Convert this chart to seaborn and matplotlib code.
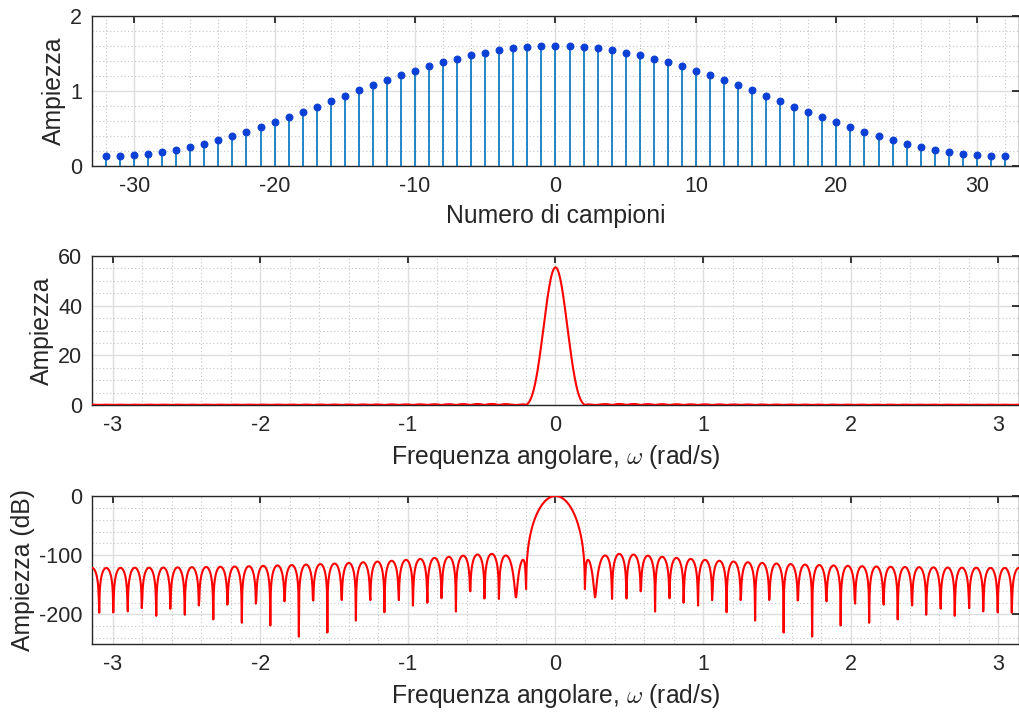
import numpy as np
import pandas as pd
import matplotlib
matplotlib.use("Agg")
import matplotlib.pyplot as plt
from matplotlib.ticker import MultipleLocator
import seaborn as sns

# Window samples (index -32 ... 32)
sample_index = list(range(-32, 33))
half_window = [1.6000, 1.5965, 1.5859, 1.5683, 1.5440, 1.5131, 1.4760, 1.4329,
               1.3844, 1.3309, 1.2729, 1.2109, 1.1457, 1.0776, 1.0076, 0.9361,
               0.8640, 0.7919, 0.7204, 0.6504, 0.5823, 0.5171, 0.4551, 0.3971,
               0.3436, 0.2951, 0.2520, 0.2149, 0.1840, 0.1597, 0.1421, 0.1315,
               0.1280]
window_values = half_window[:0:-1] + half_window

fft_length = 2048

# Spectrum of the window on an fft-shifted frequency grid
spectrum = np.abs(np.fft.fftshift(np.fft.fft(np.array(window_values), fft_length)))
omega = np.arange(-fft_length // 2, fft_length // 2) * 2 * np.pi / fft_length
log_spectrum = 20 * np.log(spectrum / spectrum.max())

time_df = pd.DataFrame({"n": sample_index, "w": window_values})
freq_df = pd.DataFrame({"omega": omega, "mag": spectrum, "db": log_spectrum})

sns.set_theme(style="white")
plt.rcParams["font.family"] = ["Liberation Sans", "DejaVu Sans"]
plt.rcParams["axes.unicode_minus"] = False
plt.rcParams["mathtext.fontset"] = "cm"

TXT = "#262626"
fig = plt.figure(figsize=(10.2, 7.14), dpi=100)
W, H = 1020, 714

def make_axes(top, bottom, left=92, right=1019):
    return fig.add_axes([left / W, 1 - bottom / H, (right - left) / W, (bottom - top) / H])

ax1 = make_axes(16, 166)
ax2 = make_axes(256, 405)
ax3 = make_axes(496, 644)

# Stem plot of the window
ax1.vlines(time_df["n"], 0, time_df["w"], color="#0072bd", linewidth=1.2, zorder=3)
sns.scatterplot(data=time_df, x="n", y="w", ax=ax1, color="#0a3fd6", s=26,
                edgecolor="#0a3fd6", linewidth=0.6, zorder=4, legend=False)

# Linear magnitude spectrum
sns.lineplot(data=freq_df, x="omega", y="mag", ax=ax2, color="#ff0000",
             linewidth=1.5, zorder=3)
# Log magnitude spectrum
sns.lineplot(data=freq_df, x="omega", y="db", ax=ax3, color="#ff0000",
             linewidth=1.5, zorder=3)

ax1.set_xlim(-33, 33)
ax1.set_ylim(0, 2)
ax1.xaxis.set_major_locator(MultipleLocator(10))
ax1.xaxis.set_minor_locator(MultipleLocator(2))
ax1.yaxis.set_major_locator(MultipleLocator(1))
ax1.yaxis.set_minor_locator(MultipleLocator(0.2))

ax2.set_ylim(0, 60)
ax2.yaxis.set_major_locator(MultipleLocator(20))
ax2.yaxis.set_minor_locator(MultipleLocator(5))

ax3.set_ylim(-250, 0)
ax3.yaxis.set_major_locator(MultipleLocator(100))
ax3.yaxis.set_minor_locator(MultipleLocator(20))

for ax in (ax2, ax3):
    ax.set_xlim(-np.pi, np.pi)
    ax.xaxis.set_major_locator(MultipleLocator(1))
    ax.xaxis.set_minor_locator(MultipleLocator(0.2))

labels = [("Numero di campioni", "Ampiezza"),
          ("Frequenza angolare, $\\omega$ (rad/s)", "Ampiezza"),
          ("Frequenza angolare, $\\omega$ (rad/s)", "Ampiezza (dB)")]

for ax, (xl, yl) in zip((ax1, ax2, ax3), labels):
    ax.set_facecolor("white")
    ax.grid(True, which="major", color="#dedede", linewidth=1.0, linestyle="-", zorder=0)
    ax.grid(True, which="minor", color="#c4c4c4", linewidth=0.8, linestyle=(0, (1, 2.2)), zorder=0)
    ax.set_axisbelow(True)
    for sp in ax.spines.values():
        sp.set_visible(True)
        sp.set_color(TXT)
        sp.set_linewidth(1.0)
    ax.tick_params(which="major", direction="in", length=5, width=1.3, color=TXT,
                   top=True, right=True, labelsize=15.5, labelcolor=TXT, pad=7)
    ax.tick_params(which="minor", length=0, top=True, right=True)
    ax.set_xlabel(xl, fontsize=17.8, color=TXT, labelpad=5)
    ax.set_ylabel(yl, fontsize=17.8, color=TXT, labelpad=3)

fig.savefig("out.png", dpi=100)
